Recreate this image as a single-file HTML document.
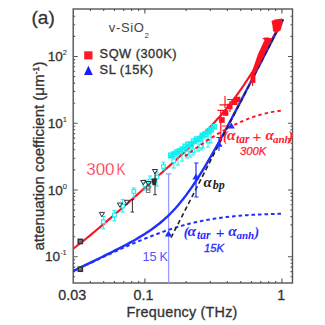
<!DOCTYPE html>
<html><head><meta charset="utf-8"><style>
html,body{margin:0;padding:0;background:#fff;width:325px;height:325px;overflow:hidden}
svg{position:absolute;left:0;top:0}
text{font-family:"Liberation Sans",sans-serif}
.t{fill:#333}
.s{font-family:"Liberation Serif",serif;font-style:italic;font-weight:bold}
</style></head><body>
<svg width="325" height="325" viewBox="0 0 325 325">
<defs><clipPath id="cp"><rect x="73.2" y="9" width="219.3" height="274"/></clipPath></defs>
<rect x="73.2" y="9.0" width="219.3" height="274.0" fill="none" stroke="#555" stroke-width="1.4"/>
<path d="M90.4,283.0v-2.0M90.4,9.0v2.0M103.7,283.0v-2.0M103.7,9.0v2.0M114.5,283.0v-2.0M114.5,9.0v2.0M123.7,283.0v-2.0M123.7,9.0v2.0M131.6,283.0v-2.0M131.6,9.0v2.0M138.6,283.0v-2.0M138.6,9.0v2.0M144.9,283.0v-4.5M144.9,9.0v4.5M186.1,283.0v-2.0M186.1,9.0v2.0M210.3,283.0v-2.0M210.3,9.0v2.0M227.4,283.0v-2.0M227.4,9.0v2.0M240.7,283.0v-2.0M240.7,9.0v2.0M251.5,283.0v-2.0M251.5,9.0v2.0M260.7,283.0v-2.0M260.7,9.0v2.0M268.6,283.0v-2.0M268.6,9.0v2.0M275.6,283.0v-2.0M275.6,9.0v2.0M281.9,283.0v-4.5M281.9,9.0v4.5M73.2,276.8h2.0M292.5,276.8h-2.0M73.2,271.6h2.0M292.5,271.6h-2.0M73.2,267.1h2.0M292.5,267.1h-2.0M73.2,263.2h2.0M292.5,263.2h-2.0M73.2,259.8h2.0M292.5,259.8h-2.0M73.2,256.8h4.5M292.5,256.8h-4.5M73.2,236.7h2.0M292.5,236.7h-2.0M73.2,224.9h2.0M292.5,224.9h-2.0M73.2,216.6h2.0M292.5,216.6h-2.0M73.2,210.1h2.0M292.5,210.1h-2.0M73.2,204.8h2.0M292.5,204.8h-2.0M73.2,200.3h2.0M292.5,200.3h-2.0M73.2,196.5h2.0M292.5,196.5h-2.0M73.2,193.1h2.0M292.5,193.1h-2.0M73.2,190.0h4.5M292.5,190.0h-4.5M73.2,169.9h2.0M292.5,169.9h-2.0M73.2,158.2h2.0M292.5,158.2h-2.0M73.2,149.8h2.0M292.5,149.8h-2.0M73.2,143.3h2.0M292.5,143.3h-2.0M73.2,138.1h2.0M292.5,138.1h-2.0M73.2,133.6h2.0M292.5,133.6h-2.0M73.2,129.7h2.0M292.5,129.7h-2.0M73.2,126.3h2.0M292.5,126.3h-2.0M73.2,123.2h4.5M292.5,123.2h-4.5M73.2,103.2h2.0M292.5,103.2h-2.0M73.2,91.4h2.0M292.5,91.4h-2.0M73.2,83.1h2.0M292.5,83.1h-2.0M73.2,76.6h2.0M292.5,76.6h-2.0M73.2,71.3h2.0M292.5,71.3h-2.0M73.2,66.8h2.0M292.5,66.8h-2.0M73.2,63.0h2.0M292.5,63.0h-2.0M73.2,59.6h2.0M292.5,59.6h-2.0M73.2,56.5h4.5M292.5,56.5h-4.5M73.2,36.4h2.0M292.5,36.4h-2.0M73.2,24.7h2.0M292.5,24.7h-2.0M73.2,16.3h2.0M292.5,16.3h-2.0" stroke="#555" stroke-width="1.1" fill="none"/>
<g clip-path="url(#cp)"><path d="M168.6,173.5 V283 M165.8,173.8 h5.6" stroke="#9a9aff" stroke-width="1.3" fill="none"/>
<path d="M73.20,248.78 L75.82,246.76 L78.45,244.72 L81.07,242.65 L83.69,240.56 L86.31,238.45 L88.94,236.32 L91.56,234.17 L94.18,232.00 L96.80,229.81 L99.43,227.61 L102.05,225.39 L104.67,223.16 L107.29,220.92 L109.92,218.66 L112.54,216.39 L115.16,214.12 L117.78,211.83 L120.41,209.53 L123.03,207.23 L125.65,204.92 L128.27,202.60 L130.90,200.28 L133.52,197.96 L136.14,195.63 L138.76,193.29 L141.38,190.96 L144.01,188.62 L146.63,186.28 L149.25,183.93 L151.88,181.59 L154.50,179.24 L157.12,176.89 L159.74,174.54 L162.37,172.19 L164.99,169.83 L167.61,167.47 L170.23,165.11 L172.86,162.74 L175.48,160.36 L178.10,157.97 L180.72,155.57 L183.35,153.16 L185.97,150.73 L188.59,148.29 L191.21,145.82 L193.84,143.33 L196.46,140.81 L199.08,138.26 L201.70,135.67 L204.32,133.03 L206.95,130.35 L209.57,127.62 L212.19,124.83 L214.81,121.98 L217.44,119.07 L220.06,116.07 L222.68,113.01 L225.31,109.86 L227.93,106.62 L230.55,103.30 L233.17,99.88 L235.80,96.37 L238.42,92.77 L241.04,89.07 L243.66,85.28 L246.29,81.40 L248.91,77.43 L251.53,73.37 L254.15,69.22 L256.77,65.00 L259.40,60.70 L262.02,56.33 L264.64,51.89 L267.26,47.40 L269.89,42.85 L272.51,38.24 L275.13,33.60 L277.75,28.90 L280.38,24.18 L283.00,19.42" stroke="#ff1020" stroke-width="2.1" fill="none"/>
<path d="M73.20,271.01 L75.82,269.74 L78.45,268.47 L81.07,267.20 L83.69,265.92 L86.31,264.65 L88.94,263.37 L91.56,262.10 L94.18,260.82 L96.80,259.53 L99.43,258.25 L102.05,256.96 L104.67,255.67 L107.29,254.37 L109.92,253.06 L112.54,251.74 L115.16,250.42 L117.78,249.08 L120.41,247.73 L123.03,246.37 L125.65,244.98 L128.27,243.58 L130.90,242.15 L133.52,240.69 L136.14,239.19 L138.76,237.66 L141.38,236.08 L144.01,234.46 L146.63,232.77 L149.25,231.02 L151.88,229.20 L154.50,227.30 L157.12,225.31 L159.74,223.23 L162.37,221.03 L164.99,218.73 L167.61,216.30 L170.23,213.74 L172.86,211.04 L175.48,208.20 L178.10,205.21 L180.72,202.08 L183.35,198.79 L185.97,195.36 L188.59,191.79 L191.21,188.07 L193.84,184.22 L196.46,180.24 L199.08,176.14 L201.70,171.92 L204.32,167.61 L206.95,163.20 L209.57,158.70 L212.19,154.12 L214.81,149.48 L217.44,144.77 L220.06,140.01 L222.68,135.20 L225.31,130.35 L227.93,125.46 L230.55,120.54 L233.17,115.59 L235.80,110.62 L238.42,105.63 L241.04,100.62 L243.66,95.59 L246.29,90.55 L248.91,85.51 L251.53,80.45 L254.15,75.38 L256.77,70.31 L259.40,65.23 L262.02,60.14 L264.64,55.05 L267.26,49.96 L269.89,44.87 L272.51,39.77 L275.13,34.67 L277.75,29.57 L280.38,24.46 L283.00,19.36" stroke="#1f2fff" stroke-width="2.4" fill="none"/>
<path d="M73.20,271.14 L75.80,269.90 L78.40,268.66 L80.99,267.42 L83.59,266.19 L86.19,264.96 L88.79,263.73 L91.38,262.50 L93.98,261.28 L96.58,260.06 L99.18,258.85 L101.77,257.64 L104.37,256.43 L106.97,255.24 L109.56,254.04 L112.16,252.85 L114.76,251.67 L117.36,250.50 L119.96,249.33 L122.55,248.18 L125.15,247.03 L127.75,245.89 L130.34,244.76 L132.94,243.64 L135.54,242.54 L138.14,241.44 L140.74,240.36 L143.33,239.30 L145.93,238.25 L148.53,237.21 L151.12,236.20 L153.72,235.20 L156.32,234.22 L158.92,233.25 L161.52,232.31 L164.11,231.40 L166.71,230.50 L169.31,229.63 L171.91,228.78 L174.50,227.95 L177.10,227.15 L179.70,226.38 L182.30,225.63 L184.89,224.91 L187.49,224.22 L190.09,223.56 L192.69,222.92 L195.28,222.31 L197.88,221.73 L200.48,221.17 L203.07,220.64 L205.67,220.14 L208.27,219.67 L210.87,219.22 L213.47,218.80 L216.06,218.39 L218.66,218.02 L221.26,217.66 L223.86,217.33 L226.45,217.02 L229.05,216.73 L231.65,216.46 L234.25,216.20 L236.84,215.97 L239.44,215.75 L242.04,215.54 L244.63,215.35 L247.23,215.18 L249.83,215.01 L252.43,214.86 L255.02,214.72 L257.62,214.59 L260.22,214.47 L262.82,214.36 L265.42,214.26 L268.01,214.16 L270.61,214.07 L273.21,213.99 L275.81,213.92 L278.40,213.85 L281.00,213.79" stroke="#1f2fff" stroke-width="2" fill="none" stroke-dasharray="3.6,2.9"/>
<path d="M171.00,237.67 L172.40,234.95 L173.80,232.22 L175.20,229.49 L176.60,226.76 L178.00,224.03 L179.40,221.30 L180.80,218.57 L182.20,215.85 L183.60,213.12 L185.00,210.39 L186.40,207.66 L187.80,204.93 L189.20,202.20 L190.60,199.47 L192.00,196.75 L193.40,194.02 L194.80,191.29 L196.20,188.56 L197.60,185.83 L199.00,183.10 L200.40,180.38 L201.80,177.65 L203.20,174.92 L204.60,172.19 L206.00,169.46 L207.40,166.73 L208.80,164.00 L210.20,161.28 L211.60,158.55 L213.00,155.82 L214.40,153.09 L215.80,150.36 L217.20,147.63 L218.60,144.91 L220.00,142.18 L221.40,139.45 L222.80,136.72 L224.20,133.99 L225.60,131.26 L227.00,128.53 L228.40,125.81 L229.80,123.08 L231.20,120.35 L232.60,117.62 L234.00,114.89 L235.40,112.16 L236.80,109.44 L238.20,106.71 L239.60,103.98 L241.00,101.25 L242.40,98.52 L243.80,95.79 L245.20,93.06 L246.60,90.34 L248.00,87.61 L249.40,84.88 L250.80,82.15 L252.20,79.42 L253.60,76.69 L255.00,73.97 L256.40,71.24 L257.80,68.51 L259.20,65.78 L260.60,63.05 L262.00,60.32 L263.40,57.59 L264.80,54.87 L266.20,52.14 L267.60,49.41 L269.00,46.68 L270.40,43.95 L271.80,41.22 L273.20,38.50 L274.60,35.77 L276.00,33.04 L277.40,30.31 L278.80,27.58 L280.20,24.85 L281.60,22.12 L283.00,19.40" stroke="#222" stroke-width="1.6" fill="none" stroke-dasharray="4.6,3"/>
<path d="M103.3,216.5V228.8M101.3,216.5h4M101.3,228.8h4" stroke="#10f0f0" stroke-width="1" fill="none"/>
<rect x="101.5" y="219.89999999999998" width="3.6" height="3.6" fill="#fff" stroke="#10f0f0" stroke-width="1.1"/>
<path d="M114.4,210.4V220.8M112.4,210.4h4M112.4,220.8h4" stroke="#10f0f0" stroke-width="1" fill="none"/>
<rect x="112.60000000000001" y="213.2" width="3.6" height="3.6" fill="#fff" stroke="#10f0f0" stroke-width="1.1"/>
<path d="M122.7,199.3V212M120.7,199.3h4M120.7,212h4" stroke="#10f0f0" stroke-width="1" fill="none"/>
<rect x="120.9" y="204.2" width="3.6" height="3.6" fill="#fff" stroke="#10f0f0" stroke-width="1.1"/>
<path d="M133.8,188V197M131.8,188h4M131.8,197h4" stroke="#10f0f0" stroke-width="1" fill="none"/>
<rect x="132.0" y="189.7" width="3.6" height="3.6" fill="#fff" stroke="#10f0f0" stroke-width="1.1"/>
<path d="M144.9,180V190M142.9,180h4M142.9,190h4" stroke="#10f0f0" stroke-width="1" fill="none"/>
<rect x="143.1" y="182.7" width="3.6" height="3.6" fill="#fff" stroke="#10f0f0" stroke-width="1.1"/>
<path d="M150,176V187M148,176h4M148,187h4" stroke="#10f0f0" stroke-width="1" fill="none"/>
<rect x="148.2" y="179.2" width="3.6" height="3.6" fill="#fff" stroke="#10f0f0" stroke-width="1.1"/>
<path d="M157,172V186M155,172h4M155,186h4" stroke="#10f0f0" stroke-width="1" fill="none"/>
<rect x="155.2" y="175.2" width="3.6" height="3.6" fill="#fff" stroke="#10f0f0" stroke-width="1.1"/>
<path d="M163.5,162.2V170M161.5,162.2h4M161.5,170h4" stroke="#10f0f0" stroke-width="1" fill="none"/>
<rect x="161.7" y="164.7" width="3.6" height="3.6" fill="#fff" stroke="#10f0f0" stroke-width="1.1"/>
<path d="M173.8,152V168M171.8,152h4M171.8,168h4" stroke="#10f0f0" stroke-width="1" fill="none"/>
<rect x="172.0" y="159.0" width="3.6" height="3.6" fill="#fff" stroke="#10f0f0" stroke-width="1.1"/>
<path d="M187,146V158M185,146h4M185,158h4" stroke="#10f0f0" stroke-width="1" fill="none"/>
<rect x="185.2" y="151.2" width="3.6" height="3.6" fill="#fff" stroke="#10f0f0" stroke-width="1.1"/>
<path d="M193,143V155M191,143h4M191,155h4" stroke="#10f0f0" stroke-width="1" fill="none"/>
<rect x="191.2" y="149.0" width="3.6" height="3.6" fill="#fff" stroke="#10f0f0" stroke-width="1.1"/>
<path d="M201,138V150M199,138h4M199,150h4" stroke="#10f0f0" stroke-width="1" fill="none"/>
<rect x="199.2" y="144.2" width="3.6" height="3.6" fill="#fff" stroke="#10f0f0" stroke-width="1.1"/>
<path d="M208,133V147M206,133h4M206,147h4" stroke="#10f0f0" stroke-width="1" fill="none"/>
<rect x="206.2" y="139.2" width="3.6" height="3.6" fill="#fff" stroke="#10f0f0" stroke-width="1.1"/>
<path d="M170.80,156.10 L183.00,148.80 L195.00,141.10 L205.00,133.80 L214.00,127.30" stroke="#10f0f0" stroke-width="3.5" stroke-linecap="round" fill="none"/>
<rect x="168.7" y="153.2" width="4.6" height="4.6" fill="none" stroke="#10f0f0" stroke-width="1.4"/>
<rect x="171.6" y="152.1" width="4.6" height="4.6" fill="none" stroke="#10f0f0" stroke-width="1.4"/>
<rect x="174.4" y="150.0" width="4.6" height="4.6" fill="none" stroke="#10f0f0" stroke-width="1.4"/>
<rect x="177.3" y="148.8" width="4.6" height="4.6" fill="none" stroke="#10f0f0" stroke-width="1.4"/>
<rect x="180.1" y="147.1" width="4.6" height="4.6" fill="none" stroke="#10f0f0" stroke-width="1.4"/>
<rect x="183.0" y="144.2" width="4.6" height="4.6" fill="none" stroke="#10f0f0" stroke-width="1.4"/>
<rect x="185.9" y="142.2" width="4.6" height="4.6" fill="none" stroke="#10f0f0" stroke-width="1.4"/>
<rect x="188.7" y="142.0" width="4.6" height="4.6" fill="none" stroke="#10f0f0" stroke-width="1.4"/>
<rect x="191.6" y="139.0" width="4.6" height="4.6" fill="none" stroke="#10f0f0" stroke-width="1.4"/>
<rect x="194.4" y="137.0" width="4.6" height="4.6" fill="none" stroke="#10f0f0" stroke-width="1.4"/>
<rect x="197.3" y="136.4" width="4.6" height="4.6" fill="none" stroke="#10f0f0" stroke-width="1.4"/>
<rect x="200.2" y="133.3" width="4.6" height="4.6" fill="none" stroke="#10f0f0" stroke-width="1.4"/>
<rect x="203.0" y="131.9" width="4.6" height="4.6" fill="none" stroke="#10f0f0" stroke-width="1.4"/>
<rect x="205.9" y="129.2" width="4.6" height="4.6" fill="none" stroke="#10f0f0" stroke-width="1.4"/>
<rect x="208.7" y="127.4" width="4.6" height="4.6" fill="none" stroke="#10f0f0" stroke-width="1.4"/>
<rect x="211.6" y="124.4" width="4.6" height="4.6" fill="none" stroke="#10f0f0" stroke-width="1.4"/>
<path d="M178,155V165M176,165h4" stroke="#10f0f0" stroke-width="1" fill="none"/>
<path d="M182,152V161M180,161h4" stroke="#10f0f0" stroke-width="1" fill="none"/>
<path d="M190,147V157M188,157h4" stroke="#10f0f0" stroke-width="1" fill="none"/>
<path d="M198,142V151M196,151h4" stroke="#10f0f0" stroke-width="1" fill="none"/>
<path d="M203,139V148M201,148h4" stroke="#10f0f0" stroke-width="1" fill="none"/>
<path d="M211,131V143M209,143h4" stroke="#10f0f0" stroke-width="1" fill="none"/>
<path d="M185.00,156.29 L186.20,155.39 L187.40,154.49 L188.60,153.59 L189.80,152.71 L191.00,151.82 L192.20,150.95 L193.40,150.08 L194.60,149.22 L195.80,148.36 L197.00,147.51 L198.20,146.66 L199.40,145.82 L200.60,144.99 L201.80,144.17 L203.00,143.35 L204.20,142.54 L205.40,141.74 L206.60,140.94 L207.80,140.16 L209.00,139.38 L210.20,138.60 L211.40,137.84 L212.60,137.08 L213.80,136.33 L215.00,135.59 L216.20,134.86 L217.40,134.14 L218.60,133.42 L219.80,132.71 L221.00,132.02 L222.20,131.33 L223.40,130.65 L224.60,129.97 L225.80,129.31 L227.00,128.66 L228.20,128.02 L229.40,127.38 L230.60,126.76 L231.80,126.14 L233.00,125.54 L234.20,124.94 L235.40,124.36 L236.60,123.79 L237.80,123.22 L239.00,122.67 L240.20,122.13 L241.40,121.59 L242.60,121.07 L243.80,120.56 L245.00,120.06 L246.20,119.57 L247.40,119.10 L248.60,118.63 L249.80,118.18 L251.00,117.73 L252.20,117.30 L253.40,116.88 L254.60,116.48 L255.80,116.08 L257.00,115.70 L258.20,115.33 L259.40,114.97 L260.60,114.62 L261.80,114.29 L263.00,113.97 L264.20,113.66 L265.40,113.37 L266.60,113.09 L267.80,112.82 L269.00,112.56 L270.20,112.32 L271.40,112.09 L272.60,111.88 L273.80,111.68 L275.00,111.49 L276.20,111.32 L277.40,111.16 L278.60,111.01 L279.80,110.88 L281.00,110.77" stroke="#ff1020" stroke-width="1.9" fill="none" stroke-dasharray="3.4,3.1"/>
<rect x="78.2" y="239.3" width="4.2" height="4.2" fill="#777" stroke="#333" stroke-width="1.5"/>
<rect x="78.2" y="267.09999999999997" width="4.2" height="4.2" fill="#777" stroke="#333" stroke-width="1.5"/>
<path d="M99.30000000000001,212.4h5.2l-2.6,4.4z" fill="none" stroke="#333" stroke-width="1"/>
<path d="M117.4,203h5.2l-2.6,4.4z" fill="none" stroke="#333" stroke-width="1"/>
<path d="M124.30000000000001,200.3h5.2l-2.6,4.4z" fill="none" stroke="#333" stroke-width="1"/>
<path d="M140.70000000000002,180.5h5.2l-2.6,4.4z" fill="none" stroke="#333" stroke-width="1"/>
<path d="M145.9,181.5h5.2l-2.6,4.4z" fill="none" stroke="#333" stroke-width="1"/>
<path d="M152.4,169.5h5.2l-2.6,4.4z" fill="none" stroke="#333" stroke-width="1"/>
<path d="M151.5,178.6h5.5l-1,6.7h-3.5z" fill="#2a2a2a"/>
<rect x="146.5" y="186" width="3.5" height="3" fill="none" stroke="#555" stroke-width="1"/><rect x="146.5" y="190" width="3.5" height="2.5" fill="none" stroke="#777" stroke-width="1"/>
<path d="M132.4,199.6V212M130.6,199.6h3.6M130.6,212h3.6M155,172V194.7M153.2,194.7h3.6" stroke="#333" stroke-width="1" fill="none"/>
<rect x="219.1" y="117.2" width="5.6" height="5.6" fill="#ff1020"/>
<rect x="222.7" y="110.2" width="5.6" height="5.6" fill="#ff1020"/>
<rect x="226.89999999999998" y="103.7" width="5.6" height="5.6" fill="#ff1020"/>
<rect x="231.79999999999998" y="99.4" width="5.6" height="5.6" fill="#ff1020"/>
<rect x="234.7" y="96.7" width="5.6" height="5.6" fill="#ff1020"/>
<rect x="250.5" y="75.5" width="4.9" height="7.4" fill="#ff1020"/>
<path d="M262,38 L272.5,38 L254.5,75 L251,77 L252.5,70 L258,54 L264.5,40 Z" fill="#ff1020"/>
<path d="M271.5,21 L275,19.5 L282,18.5 L282.5,24 L280.5,30.5 L276,33 L273,31 L272.5,26 Z" fill="#ff1020"/>
<path d="M220.8,110V141.3M217.5,110.3h9.5M219.5,104.9h9.7M227,99.5h10.3M225,96v12M230,101v11M222,126h5M252.5,72v14M264.3,38.2h4.6" stroke="#ff1020" stroke-width="1.2" fill="none"/>
<path d="M168.5,230.4l3.6,6h-7.2z" fill="#1f2fff"/>
<path d="M196,173.6l3.6,6h-7.2z" fill="#1f2fff"/>
<path d="M219,140.8l3.6,6h-7.2z" fill="#1f2fff"/>
<path d="M231.3,122.4l3.6,6h-7.2z" fill="#1f2fff"/>
<path d="M196,163V197M194.2,163h4.3M194.2,197h4.3M219,137.5V151M216.5,137.5h4.7" stroke="#1f2fff" stroke-width="1.2" fill="none"/></g>
<g class="t" stroke="#333" stroke-width="0.3">
<text x="31.5" y="24" font-size="19">(a)</text>
<text x="72.2" y="299.7" font-size="14.3" text-anchor="middle">0.03</text>
<text x="143.4" y="299.7" font-size="14.3" text-anchor="middle">0.1</text>
<text x="281.3" y="299.7" font-size="14.3" text-anchor="middle">1</text>
<text x="126.6" y="316.9" font-size="14.4" letter-spacing="0.2">Frequency (THz)</text>
<text x="47.7" y="60.8" font-size="13.6">10<tspan font-size="7.5" dy="-6" stroke-width="0.1">2</tspan></text>
<text x="47.7" y="128.2" font-size="13.6">10<tspan font-size="7.5" dy="-6" stroke-width="0.1">1</tspan></text>
<text x="47.7" y="194.8" font-size="13.6">10<tspan font-size="7.5" dy="-6" stroke-width="0.1">0</tspan></text>
<text x="45" y="260.9" font-size="13.6">10<tspan font-size="7.5" dy="-6" stroke-width="0.1">-1</tspan></text>
<text transform="translate(44,156) rotate(-90)" font-size="15" text-anchor="middle">attenuation coefficient (μm<tspan font-size="9" dy="-5">-1</tspan><tspan dy="5">)</tspan></text>
<text x="108.8" y="32.3" font-size="13" letter-spacing="0.65" stroke="none" fill="#444">v-SiO<tspan font-size="8" dy="6" letter-spacing="0">2</tspan></text>
<text x="99.6" y="58.1" font-size="12.8" letter-spacing="0.5" stroke="#333" stroke-width="0.35">SQW (300K)</text>
<text x="99.6" y="74.2" font-size="12.8" letter-spacing="0.5" stroke="#333" stroke-width="0.35">SL (15K)</text>
</g>
<rect x="84.2" y="51.3" width="8.3" height="8.1" fill="#ff1a2a"/>
<path d="M88.4,65.8 L92.8,75 L84,75 Z" fill="#1a1aff"/>
<g fill="#ff2038" stroke="#fff" stroke-width="0.3">
<text x="86.2" y="175.3" font-size="17">300</text>
<text transform="translate(116.4,175.3) scale(0.8,1)" font-size="17">K</text>
</g>
<g fill="#5050ff">
<text x="142.5" y="260.7" font-size="12.7">15</text>
<text x="159.5" y="260.7" font-size="12.5">K</text>
</g>
<g fill="#ff2030">
<text x="223" y="141" font-size="14" class="s">(</text>
<text x="227" y="140" font-size="15.5" class="s">α</text>
<text x="236" y="142.5" font-size="11.5" class="s">tar</text>
<text x="252.5" y="141.5" font-size="15">+</text>
<text x="265.5" y="140" font-size="15" class="s">α</text>
<text x="273" y="142.5" font-size="11" class="s">anh</text>
<text x="288.5" y="141" font-size="14" class="s">)</text>
<text x="240" y="155" font-size="11.3" font-style="italic" stroke="#ff2030" stroke-width="0.25">300K</text>
</g>
<g fill="#2a2aff">
<text x="183.7" y="237" font-size="14" class="s">(</text>
<text x="187.5" y="236.3" font-size="15.5" class="s">α</text>
<text x="197" y="239" font-size="11.5" class="s">tar</text>
<text x="215.8" y="237.8" font-size="15">+</text>
<text x="228.2" y="236.3" font-size="15.5" class="s">α</text>
<text x="236.5" y="239" font-size="11" class="s">anh</text>
<text x="254.5" y="237" font-size="14" class="s">)</text>
<text x="204" y="252" font-size="11.3" font-style="italic" stroke="#2a2aff" stroke-width="0.3">15K</text>
</g>
<text x="203.5" y="186.5" font-size="15" class="s" fill="#222">α</text>
<text x="212.7" y="189" font-size="12" class="s" fill="#222">bp</text>
</svg>
</body></html>
